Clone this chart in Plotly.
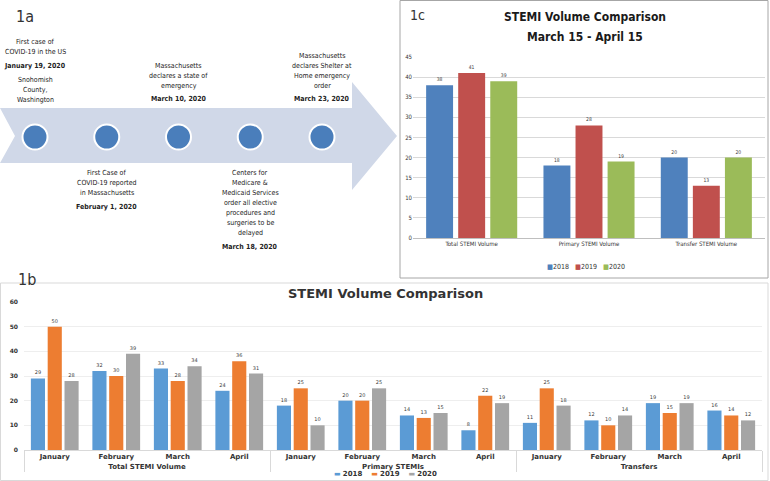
import plotly.graph_objects as go

W, H = 770, 481

# ---- 1a timeline
event_text = [
    "First case of<br>COVID-19 in the US",
    "First Case of<br>COVID-19 reported<br>in Massachusetts",
    "Massachusetts<br>declares a state of<br>emergency",
    "Centers for<br>Medicare &<br>Medicaid Services<br>order all elective<br>procedures and<br>surgeries to be<br>delayed",
    "Massachusetts<br>declares Shelter at<br>Home emergency<br>order",
]
event_date = ["January 19, 2020", "February 1, 2020", "March 10, 2020",
              "March 18, 2020", "March 23, 2020"]
event_note = ["Snohomish<br>County,<br>Washington", "", "", "", ""]

# ---- 1b monthly volumes
groups_1b = ["Total STEMI Volume", "Primary STEMIs", "Transfers"]
months_1b = ["January", "February", "March", "April"]
y2018_1b = [29, 32, 33, 24, 18, 20, 14, 8, 11, 12, 19, 16]
y2019_1b = [50, 30, 28, 36, 25, 20, 13, 22, 25, 10, 15, 14]
y2020_1b = [28, 39, 34, 31, 10, 25, 15, 19, 18, 14, 19, 12]

# ---- 1c March 15 - April 15
cats_1c = ["Total STEMI Volume", "Primary STEMI Volume", "Transfer STEMI Volume"]
y2018_1c = [38, 18, 20]
y2019_1c = [41, 28, 13]
y2020_1c = [39, 19, 20]

years = ["2018", "2019", "2020"]
colors_1b = ["#5b9bd5", "#ed7d31", "#a5a5a5"]
colors_1c = ["#4f81bd", "#c0504d", "#9bbb59"]

NARROW = "Liberation Sans Narrow, Arial Narrow, DejaVu Sans Condensed, sans-serif"
WIDE = "DejaVu Sans, Verdana, sans-serif"


def px(x):
    return x / W


def py(y):
    return 1 - y / H


fig = go.Figure()

# 1b bars (multicategory axis)
x_1b = [[g for g in groups_1b for _ in months_1b], months_1b * len(groups_1b)]
for yr, vals, c in zip(years, [y2018_1b, y2019_1b, y2020_1b], colors_1b):
    fig.add_trace(go.Bar(
        x=x_1b, y=vals, name=yr, marker=dict(color=c, line=dict(width=0)),
        text=vals, textposition="outside", constraintext="none", cliponaxis=False,
        textfont=dict(size=5, color="#404040", family=WIDE),
        xaxis="x", yaxis="y", showlegend=False,
    ))

# 1c bars
for yr, vals, c in zip(years, [y2018_1c, y2019_1c, y2020_1c], colors_1c):
    fig.add_trace(go.Bar(
        x=cats_1c, y=vals, name=yr, marker=dict(color=c, line=dict(width=0)),
        text=vals, textposition="outside", constraintext="none", cliponaxis=False,
        textfont=dict(size=5, color="#404040", family=NARROW),
        xaxis="x2", yaxis="y2", showlegend=False,
    ))

# 1a circles on an index axis
idx = list(range(len(event_date)))
fig.add_trace(go.Scatter(
    x=idx, y=[0] * len(idx), mode="markers", showlegend=False, hoverinfo="skip",
    marker=dict(size=25, color="#4a7ebb", line=dict(color="white", width=2)),
    xaxis="x3", yaxis="y3",
))

shapes = [
    # timeline arrow
    dict(type="path", xref="paper", yref="paper", layer="below",
         path=("M {0},{1} L {2},{1} L {2},{3} L {4},{5} L {2},{6} L {2},{7} "
               "L {0},{7} L {8},{5} Z").format(
             px(0), py(108), px(352), py(82), px(397), py(136), py(190),
             py(163), px(15)),
         fillcolor="#d0d8e8", line=dict(width=0)),
    # 1c frame
    dict(type="rect", xref="paper", yref="paper", layer="below",
         x0=px(400), x1=px(768), y0=py(278), y1=py(0.5),
         fillcolor="white", line=dict(color="#a6a6a6", width=1)),
    # 1b frame
    dict(type="rect", xref="paper", yref="paper", layer="below",
         x0=px(0.5), x1=px(768), y0=py(480.5), y1=py(283),
         fillcolor="white", line=dict(color="#d9d9d9", width=1)),
]

annotations = [
    dict(text="1a", x=px(14), y=py(16), xanchor="left", yanchor="middle",
         font=dict(size=16, color="#333333", family=NARROW)),
    dict(text="1c", x=px(408), y=py(15), xanchor="left", yanchor="middle",
         font=dict(size=14, color="#333333", family=NARROW)),
    dict(text="1b", x=px(16), y=py(279), xanchor="left", yanchor="middle",
         font=dict(size=16, color="#333333", family=NARROW)),
    dict(text="<b>STEMI Volume Comparison</b>", x=px(585), y=py(17),
         xanchor="center", yanchor="middle",
         font=dict(size=12, color="#1a1a1a", family=NARROW)),
    dict(text="<b>March 15 - April 15</b>", x=px(585), y=py(37),
         xanchor="center", yanchor="middle",
         font=dict(size=12, color="#1a1a1a", family=NARROW)),
    dict(text="<b>STEMI Volume Comparison</b>", x=px(385), y=py(293),
         xanchor="center", yanchor="middle",
         font=dict(size=13, color="#333333", family=WIDE)),
]

# legends drawn as text rows
leg_1c = "   ".join('<span style="color:%s">■</span>%s' % (c, y)
                    for c, y in zip(colors_1c, years))
annotations.append(dict(text=leg_1c, x=px(586), y=py(267), xanchor="center",
                        yanchor="middle",
                        font=dict(size=7, color="#333333", family=NARROW)))
leg_1b = "    ".join('<span style="color:%s">▬</span> <b>%s</b>' % (c, y)
                     for c, y in zip(colors_1b, years))
annotations.append(dict(text=leg_1b, x=px(386), y=py(474), xanchor="center",
                        yanchor="middle",
                        font=dict(size=7, color="#333333", family=WIDE)))

# timeline texts, one annotation per line
LH = 10
tfont = dict(size=7, color="#222222", family=NARROW)


def put_lines(lines, i, y_first, bold=False):
    for k, ln in enumerate(lines):
        annotations.append(dict(text=("<b>%s</b>" % ln) if bold else ln,
                                x=i, xref="x3", y=py(y_first + k * LH),
                                yanchor="middle", font=tfont))


for i in idx:
    desc = event_text[i].split("<br>")
    if i % 2 == 0:
        if event_note[i]:
            note = event_note[i].split("<br>")
            first_note = 100 - (len(note) - 1) * LH
            put_lines(note, i, first_note)
            date_y = first_note - 14
        else:
            date_y = 99
        put_lines([event_date[i]], i, date_y, bold=True)
        put_lines(desc, i, date_y - 13.5 - (len(desc) - 1) * LH)
    else:
        put_lines(desc, i, 173)
        put_lines([event_date[i]], i, 173 + (len(desc) - 1) * LH + 14, bold=True)

for a in annotations:
    a.setdefault("xref", "paper")
    a.setdefault("yref", "paper")
    a["showarrow"] = False

fig.update_layout(
    width=W, height=H, margin=dict(l=0, r=0, t=0, b=0, autoexpand=False),
    paper_bgcolor="white", plot_bgcolor="rgba(0,0,0,0)",
    barmode="group", bargap=0.18, bargroupgap=0.16,
    shapes=shapes, annotations=annotations, showlegend=False,
    xaxis=dict(domain=[px(24), px(762)], anchor="y", type="multicategory",
               showdividers=True, dividercolor="#d9d9d9", dividerwidth=1,
               showline=True, linecolor="#d9d9d9", ticks="", automargin=False,
               tickfont=dict(size=7, color="#333333", family=WIDE, weight="bold")),
    yaxis=dict(domain=[py(450), py(302)], anchor="x", range=[0, 60], dtick=10,
               showgrid=True, gridcolor="#eeeeee", zeroline=False, ticks="",
               automargin=False, ticklabelstandoff=5,
               tickfont=dict(size=6, color="#333333", family=WIDE, weight="bold")),
    xaxis2=dict(domain=[px(413), px(765)], anchor="y2", showline=True,
                linecolor="#bfbfbf", ticks="", automargin=False,
                tickfont=dict(size=6, color="#333333", family=NARROW)),
    yaxis2=dict(domain=[py(238), py(57)], anchor="x2", range=[0, 45], dtick=5,
                showgrid=True, gridcolor="#d9d9d9", zeroline=False, ticks="",
                automargin=False,
                tickfont=dict(size=6, color="#333333", family=NARROW)),
    xaxis3=dict(domain=[0, px(400)], anchor="y3",
                range=[-35 / 71.75, 365 / 71.75], visible=False),
    yaxis3=dict(domain=[0, 1], anchor="x3", range=[-(H - 137), 137], visible=False),
)

# page body has a default 8px margin; drop it so the figure fills the window
fig.write_html("out.html", config={"displayModeBar": False},
               post_script="document.body.style.margin='0';")
